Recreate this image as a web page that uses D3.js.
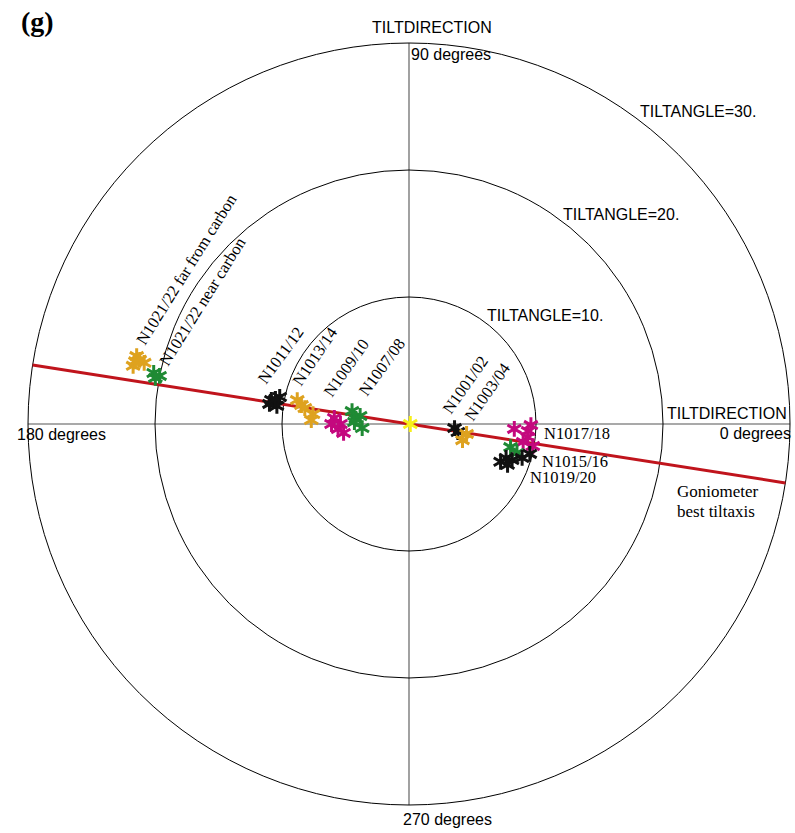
<!DOCTYPE html>
<html>
<head>
<meta charset="utf-8">
<script src="https://cdn.jsdelivr.net/npm/d3@7"></script>
<style>
  html, body { margin: 0; padding: 0; background: #fff; }
  svg { display: block; }
</style>
</head>
<body>
<svg id="chart" width="795" height="833"></svg>
<script>
// Tilt-angle rings (degrees) and the compass directions of the polar plot
const ringAngles = [10, 20, 30];
const maxTiltAngle = 30;
const directionLabels = ["0 degrees", "90 degrees", "180 degrees", "270 degrees"];

// Best tilt axis fitted from the goniometer (tilt direction, degrees)
const tiltAxisDirection = 171.1;

// Measured tilts: [sample, tilt angle (deg), tilt direction (deg)]
const measurements = [
  ["N1021/22 far from carbon", 22.1, 166.0],
  ["N1021/22 far from carbon", 22.2, 168.1],
  ["N1021/22 far from carbon", 21.4, 167.0],
  ["N1021/22 far from carbon", 21.8, 166.6],
  ["N1021/22 far from carbon", 22.1, 167.1],
  ["N1021/22 near carbon", 20.5, 168.7],
  ["N1021/22 near carbon", 20.0, 169.1],
  ["N1021/22 near carbon", 20.3, 169.7],
  ["N1011/12", 11.0, 170.1],
  ["N1011/12", 10.4, 168.2],
  ["N1011/12", 10.5, 172.2],
  ["N1011/12", 11.1, 171.8],
  ["N1011/12", 10.7, 169.4],
  ["N1013/14", 9.0, 167.9],
  ["N1013/14", 8.6, 170.0],
  ["N1013/14", 8.3, 171.3],
  ["N1013/14", 7.6, 174.1],
  ["N1013/14", 7.7, 177.7],
  ["N1009/10", 5.9, 175.4],
  ["N1009/10", 5.4, 180.0],
  ["N1009/10", 5.6, 184.0],
  ["N1009/10", 5.2, 187.8],
  ["N1009/10", 6.1, 180.0],
  ["N1007/08", 4.6, 167.2],
  ["N1007/08", 3.9, 170.7],
  ["N1007/08", 4.2, 174.6],
  ["N1007/08", 3.7, 184.9],
  ["N1007/08", 4.3, 177.9],
  ["reference", 0.1, 0.0],
  ["N1001/02", 3.6, 354.9],
  ["N1001/02", 3.9, 350.7],
  ["N1003/04", 4.4, 343.2],
  ["N1003/04", 4.6, 350.2],
  ["N1017/18", 8.3, 357.3],
  ["N1017/18", 9.6, 359.5],
  ["N1017/18", 9.4, 356.6],
  ["N1017/18", 9.4, 353.7],
  ["N1017/18", 9.9, 349.9],
  ["N1017/18", 9.1, 351.0],
  ["N1015/16", 8.2, 347.2],
  ["N1015/16", 8.8, 345.0],
  ["N1019/20", 7.8, 337.6],
  ["N1019/20", 8.1, 340.7],
  ["N1019/20", 8.6, 340.7],
  ["N1019/20", 9.3, 343.3],
  ["N1019/20", 9.8, 346.1],
  ["N1019/20", 8.4, 337.5]
];

// Marker colour for each sample
const sampleColor = {
  "N1021/22 far from carbon": "#dea21f",
  "N1021/22 near carbon": "#1f8a34",
  "N1011/12": "#111111",
  "N1013/14": "#dea21f",
  "N1009/10": "#c4087e",
  "N1007/08": "#1f8a34",
  "reference": "#f7f01a",
  "N1001/02": "#111111",
  "N1003/04": "#dea21f",
  "N1017/18": "#c4087e",
  "N1015/16": "#1f8a34",
  "N1019/20": "#111111"
};

// Where each sample name is written
const sampleLabelLayout = [
  { text: "N1021/22 far from carbon", x: 145, y: 346, rotate: -58 },
  { text: "N1021/22 near carbon", x: 168, y: 367, rotate: -58 },
  { text: "N1011/12", x: 266, y: 385, rotate: -54 },
  { text: "N1013/14", x: 301, y: 387, rotate: -56 },
  { text: "N1009/10", x: 332, y: 398, rotate: -55 },
  { text: "N1007/08", x: 367, y: 397, rotate: -54 },
  { text: "N1001/02", x: 451, y: 415, rotate: -55 },
  { text: "N1003/04", x: 473, y: 422, rotate: -55 },
  { text: "N1017/18", x: 544, y: 439, rotate: 0 },
  { text: "N1015/16", x: 542, y: 467, rotate: 0 },
  { text: "N1019/20", x: 530, y: 483, rotate: 0 }
];

const svg = d3.select("#chart");
const cx = 409, cy = 424;
const r = d3.scaleLinear().domain([0, maxTiltAngle]).range([0, 381]);
const rad = d => d * Math.PI / 180;
const px = (a, dir) => cx + r(a) * Math.cos(rad(dir));
const py = (a, dir) => cy - r(a) * Math.sin(rad(dir));

const sans = "'Liberation Sans', Arial, sans-serif";
const serif = "'Liberation Serif', 'Times New Roman', serif";

// Direction axes
const axisG = svg.append("g").attr("stroke", "#555").attr("stroke-width", 1.1);
[0, 90].forEach(dir => {
  axisG.append("line")
    .attr("x1", px(maxTiltAngle, dir)).attr("y1", py(maxTiltAngle, dir))
    .attr("x2", px(maxTiltAngle, dir + 180)).attr("y2", py(maxTiltAngle, dir + 180));
});

// Tilt-angle rings
svg.append("g").selectAll("circle").data(ringAngles).join("circle")
  .attr("cx", cx).attr("cy", cy).attr("r", d => r(d))
  .attr("fill", "none").attr("stroke", "#000").attr("stroke-width", 1);

// Goniometer best tilt axis
svg.append("line")
  .attr("x1", px(maxTiltAngle, tiltAxisDirection)).attr("y1", py(maxTiltAngle, tiltAxisDirection))
  .attr("x2", px(maxTiltAngle, tiltAxisDirection + 180)).attr("y2", py(maxTiltAngle, tiltAxisDirection + 180))
  .attr("stroke", "#c0141c").attr("stroke-width", 3);

// Asterisk markers
const star = d3.symbol().type(d3.symbolAsterisk).size(175);
svg.append("g").selectAll("path").data(measurements).join("path")
  .attr("d", star)
  .attr("transform", d => `translate(${px(d[1], d[2])},${py(d[1], d[2])})`)
  .attr("fill", "none")
  .attr("stroke", d => sampleColor[d[0]])
  .attr("stroke-width", 3);

// Ring and direction captions
const capG = svg.append("g").attr("font-family", sans).attr("font-size", 16).attr("fill", "#000");
capG.append("text").attr("x", 372).attr("y", 33).text("TILTDIRECTION");
capG.append("text").attr("x", 411).attr("y", 60).text(directionLabels[1]);
capG.append("text").attr("x", 667).attr("y", 419).text("TILTDIRECTION");
capG.append("text").attr("x", 791).attr("y", 439).attr("text-anchor", "end").text(directionLabels[0]);
capG.append("text").attr("x", 106).attr("y", 440).attr("text-anchor", "end").text(directionLabels[2]);
capG.append("text").attr("x", 403).attr("y", 825).text(directionLabels[3]);
const ringLabelPos = [[487, 321], [563, 220], [640, 117]];
capG.selectAll("text.ring").data(ringAngles).join("text").attr("class", "ring")
  .attr("x", (d, i) => ringLabelPos[i][0]).attr("y", (d, i) => ringLabelPos[i][1])
  .text(d => `TILTANGLE=${d}.`);

// Sample names
svg.append("g").attr("font-family", serif).attr("font-size", 16.5).attr("fill", "#000")
  .selectAll("text").data(sampleLabelLayout).join("text")
  .attr("transform", d => `translate(${d.x},${d.y}) rotate(${d.rotate})`)
  .text(d => d.text);

// Tilt axis caption
const gon = svg.append("text").attr("font-family", serif).attr("font-size", 17).attr("fill", "#000");
gon.append("tspan").attr("x", 677).attr("y", 497).text("Goniometer");
gon.append("tspan").attr("x", 677).attr("y", 517).text("best tiltaxis");

// Panel tag
svg.append("text").attr("x", 21).attr("y", 31)
  .attr("font-family", serif).attr("font-weight", "bold").attr("font-size", 28)
  .text("(g)");
</script>
</body>
</html>
